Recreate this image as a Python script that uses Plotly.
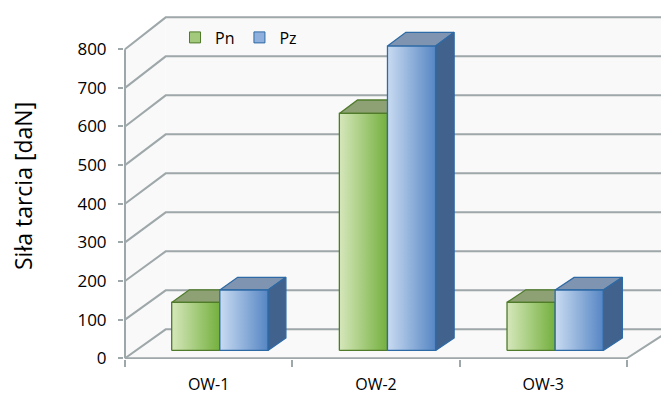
import plotly.graph_objects as go

# ---- data -------------------------------------------------------------
categories = ["OW-1", "OW-2", "OW-3"]
series_names = ["Pn", "Pz"]
pn_values = [124, 612, 124]
pz_values = [156, 786, 156]
y_ticks = [0, 100, 200, 300, 400, 500, 600, 700, 800]
y_title = "Siła tarcia [daN]"

# ---- styling ----------------------------------------------------------
FONT = "Open Sans"
GRID = "#9ea7a9"
WALL = "#f9f9f9"
STYLE = {
    "Pn": dict(front=("#d6e7bb", "#74b03e"), top="#8da174", side="#5f8a3a",
               line="#4f7b2b", legend="#a3c97c"),
    "Pz": dict(front=("#c9dbf1", "#5686c4"), top="#7f94b0", side="#42628e",
               line="#2e6aa5", legend="#8fb0dc"),
}

# ---- geometry of the pseudo-3D box -----------------------------------
W, H = 661, 394
ML, MR, MT, MB = 124, 0, 8, 35
PLOT_W = W - ML - MR
PLOT_H = H - MT - MB
CAT_PX = 167.3          # width of one category slot on the front plane (px)
K = 0.38625             # pixels per value unit on the front plane
X0 = -1 / CAT_PX
Y0 = -2
x_range = [X0, X0 + PLOT_W / CAT_PX]
y_range = [Y0, Y0 + PLOT_H / K]
N = len(categories)
V_MAX = y_ticks[-1]

DEPTH_PX = 40.7          # horizontal shift of the back wall (px)
DEPTH_V = 74.8           # vertical shift of the back wall (value units)
BAR_W = 0.287            # bar width in category units
D_FRONT, D_BACK = 0.27, 0.70   # depth slab occupied by the bars


def proj(xc, v, d):
    """Project a point of the box (category x, value, depth 0..1) to the axes."""
    x = xc * (1 + 0.008 * d) + d * DEPTH_PX / CAT_PX
    y = v * (1 + 0.0097 * d) + d * DEPTH_V
    return x, y


def poly(points):
    xs, ys = zip(*points)
    return list(xs) + [xs[0]], list(ys) + [ys[0]]


fig = go.Figure()


def add_fill(points, color, line_color=None, line_width=0, gradient=None):
    xs, ys = poly(points)
    kw = dict(x=xs, y=ys, mode="lines", fill="toself", hoverinfo="skip",
              showlegend=False,
              line=dict(color=line_color or color, width=line_width))
    if gradient:
        kw["fillgradient"] = dict(type="horizontal",
                                  colorscale=[[0, gradient[0]], [1, gradient[1]]])
    else:
        kw["fillcolor"] = color
    fig.add_trace(go.Scatter(**kw))


# walls and floor
add_fill([proj(0, 0, 1), proj(N, 0, 1), proj(N, V_MAX, 1), proj(0, V_MAX, 1)], WALL)
add_fill([proj(0, 0, 0), proj(0, 0, 1), proj(0, V_MAX, 1), proj(0, V_MAX, 0)], WALL)
add_fill([proj(0, 0, 0), proj(N, 0, 0), proj(N, 0, 1), proj(0, 0, 1)], WALL)

# gridlines on the side wall and the back wall
gx, gy = [], []
for v in y_ticks:
    for p in (proj(0, v, 0), proj(0, v, 1), proj(N, v, 1)):
        gx.append(p[0]); gy.append(p[1])
    gx.append(None); gy.append(None)
# front edge of the floor, its right edge, and the vertical value axis
for seg in ([proj(0, 0, 0), proj(N, 0, 0), proj(N, 0, 1)],
            [proj(0, 0, 0), proj(0, V_MAX, 0)]):
    for p in seg:
        gx.append(p[0]); gy.append(p[1])
    gx.append(None); gy.append(None)
fig.add_trace(go.Scatter(x=gx, y=gy, mode="lines", hoverinfo="skip",
                         showlegend=False, line=dict(color=GRID, width=2)))

# bars
series_values = {"Pn": pn_values, "Pz": pz_values}
for i in range(N):
    for s, name in enumerate(series_names):
        v = series_values[name][i]
        st = STYLE[name]
        xl = i + 0.5 - BAR_W + s * BAR_W
        xr = xl + BAR_W
        add_fill([proj(xl, v, D_FRONT), proj(xr, v, D_FRONT),
                  proj(xr, v, D_BACK), proj(xl, v, D_BACK)],
                 st["top"], st["line"], 1.3)
        add_fill([proj(xr, 0, D_FRONT), proj(xr, 0, D_BACK),
                  proj(xr, v, D_BACK), proj(xr, v, D_FRONT)],
                 st["side"], st["line"], 1.3)
        add_fill([proj(xl, 0, D_FRONT), proj(xr, 0, D_FRONT),
                  proj(xr, v, D_FRONT), proj(xl, v, D_FRONT)],
                 None, st["line"], 1.3, gradient=st["front"])

# legend entries
for name in series_names:
    st = STYLE[name]
    fig.add_trace(go.Scatter(x=[None], y=[None], name=name, mode="markers",
                             showlegend=True, hoverinfo="skip",
                             marker=dict(symbol="square", size=11,
                                         color=st["legend"],
                                         line=dict(color=st["line"], width=1))))

fig.update_layout(
    width=W, height=H,
    margin=dict(l=ML, r=MR, t=MT, b=MB, pad=0, autoexpand=False),
    paper_bgcolor="white", plot_bgcolor="white",
    font=dict(family=FONT, size=17, color="#000000"),
    showlegend=True,
    legend=dict(orientation="h", x=(175 - ML) / PLOT_W, xanchor="left",
                y=(H - MB - 37.5) / PLOT_H, yanchor="middle",
                bgcolor="rgba(0,0,0,0)", font=dict(size=16), itemwidth=30),
    xaxis=dict(range=x_range, showgrid=False, zeroline=False, showline=False,
               automargin=False, tickfont=dict(size=16),
               tickmode="array", tickvals=[i + 0.5 for i in range(N)],
               ticktext=categories, ticks="", ticklabelstandoff=14,
               minor=dict(tickmode="array", tickvals=list(range(N + 1)),
                          ticks="outside", ticklen=7, tickwidth=1.5,
                          tickcolor=GRID, showgrid=False),
               fixedrange=True),
    yaxis=dict(range=y_range, showgrid=False, zeroline=False, showline=False,
               automargin=False,
               tickmode="array", tickvals=y_ticks,
               ticktext=[str(t) for t in y_ticks],
               ticks="outside", ticklen=5, tickwidth=1.5, tickcolor=GRID,
               ticklabelstandoff=8, fixedrange=True),
    annotations=[dict(text=y_title, textangle=-90, showarrow=False,
                      xref="paper", yref="paper",
                      x=(23 - ML) / PLOT_W, y=(H - MB - 186) / PLOT_H,
                      xanchor="center", yanchor="middle",
                      font=dict(size=23, family=FONT, color="#000000"))],
)

fig.write_html("out.html")
